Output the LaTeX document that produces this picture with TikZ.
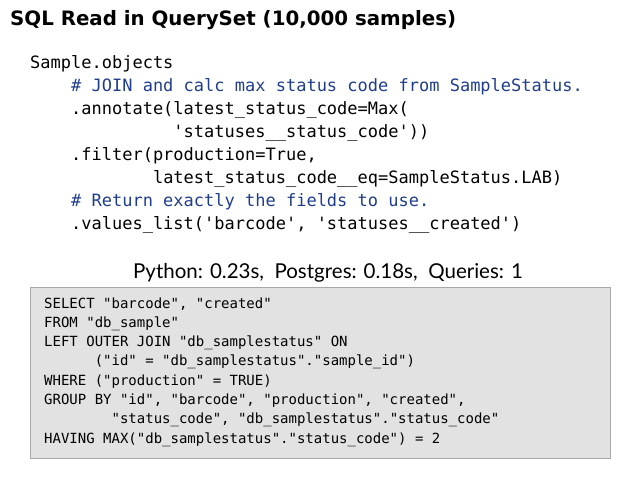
\documentclass[tikz,border=0pt]{standalone}
\usepackage{fontspec}
\setmainfont{Lato}
\setmonofont{DejaVu Sans Mono}
\definecolor{cmt}{HTML}{1F3D8C}
\definecolor{boxfill}{HTML}{E2E2E2}
\definecolor{boxline}{HTML}{A8A8A8}
\begin{document}
\begin{tikzpicture}[x=1pt,y=-1pt,
  code/.style={anchor=base west,inner sep=0pt,font=\fontsize{17}{20}\ttfamily},
  sql/.style={anchor=base west,inner sep=0pt,font=\fontsize{14}{16}\ttfamily},
  every node/.style={inner sep=0pt}]
\useasboundingbox (0,0) rectangle (638,479);
\node[anchor=base west,font=\fontsize{19.8}{24}\sffamily\bfseries] (title) at (10,25) {\fontspec{DejaVu Sans}\bfseries SQL Read in QuerySet (10,000 samples)};
\node[code] (c1) at (30,68) {Sample.objects};
\node[code,text=cmt] (c2) at (30,91) {\ \ \ \ \# JOIN and calc max status code from SampleStatus.};
\node[code] (c3) at (30,114) {\ \ \ \ .annotate(latest\_status\_code=Max(};
\node[code] (c4) at (30,137) {\ \ \ \ \ \ \ \ \ \ \ \ \ \ 'statuses\_\_status\_code'))};
\node[code] (c5) at (30,160) {\ \ \ \ .filter(production=True,};
\node[code] (c6) at (30,183) {\ \ \ \ \ \ \ \ \ \ \ \ latest\_status\_code\_\_eq=SampleStatus.LAB)};
\node[code,text=cmt] (c7) at (30,206) {\ \ \ \ \# Return exactly the fields to use.};
\node[code] (c8) at (30,229) {\ \ \ \ .values\_list('barcode', 'statuses\_\_created')};
\node[anchor=base,font=\fontsize{20.5}{22}\selectfont] (cap) at (328,278) {Python: 0.23s,\ \ Postgres: 0.18s,\ \ Queries: 1};
\draw[boxline,fill=boxfill] (30,287) rectangle (610,458);
\node[sql] (s1) at (44,308) {SELECT "barcode", "created"};
\node[sql] (s2) at (44,327) {FROM "db\_sample"};
\node[sql] (s3) at (44,346) {LEFT OUTER JOIN "db\_samplestatus" ON};
\node[sql] (s4) at (44,365.5) {\ \ \ \ \ \ ("id" = "db\_samplestatus"."sample\_id")};
\node[sql] (s5) at (44,385) {WHERE ("production" = TRUE)};
\node[sql] (s6) at (44,404) {GROUP BY "id", "barcode", "production", "created",};
\node[sql] (s7) at (44,423) {\ \ \ \ \ \ \ \ "status\_code", "db\_samplestatus"."status\_code"};
\node[sql] (s8) at (44,443) {HAVING MAX("db\_samplestatus"."status\_code") = 2};
\end{tikzpicture}
\end{document}
